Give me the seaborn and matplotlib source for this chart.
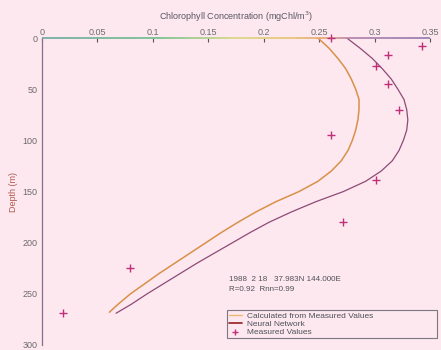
import numpy as np
import pandas as pd
import matplotlib
matplotlib.use("Agg")
import matplotlib.pyplot as plt
from matplotlib.collections import LineCollection
from matplotlib.colors import LinearSegmentedColormap
from matplotlib.lines import Line2D
import seaborn as sns

# ---- data ----
calc_depth = [0, 10, 20, 30, 40, 50, 60, 70, 80, 90, 100, 110, 120, 130, 140,
              150, 160, 170, 180, 190, 200, 210, 220, 230, 240, 250, 260, 268]
calc_chl = [0.249, 0.259, 0.267, 0.274, 0.279, 0.283, 0.286, 0.286, 0.285, 0.283,
            0.280, 0.276, 0.270, 0.261, 0.249, 0.232, 0.211, 0.193, 0.177, 0.162,
            0.148, 0.134, 0.120, 0.106, 0.093, 0.080, 0.069, 0.061]

nn_depth = [0, 10, 20, 30, 40, 50, 60, 70, 80, 90, 100, 110, 120, 130, 140,
            150, 160, 170, 180, 190, 200, 210, 220, 230, 240, 250, 260, 269]
nn_chl = [0.275, 0.287, 0.298, 0.307, 0.315, 0.321, 0.3265, 0.329, 0.330, 0.329,
          0.326, 0.322, 0.316, 0.306, 0.292, 0.272, 0.247, 0.225, 0.205, 0.188,
          0.172, 0.156, 0.140, 0.125, 0.110, 0.095, 0.081, 0.067]

meas_depth = [0, 8, 17, 27, 45, 70, 95, 139, 180, 225, 269]
meas_chl = [0.261, 0.343, 0.312, 0.301, 0.312, 0.322, 0.261, 0.301, 0.272, 0.080, 0.0195]

x_ticks = [0, 0.05, 0.1, 0.15, 0.2, 0.25, 0.3, 0.35]
x_ticklabels = ["0", "0.05", "0.1", "0.15", "0.2", "0.25", "0.3", "0.35"]
y_ticks = [0, 50, 100, 150, 200, 250, 300]
y_ticklabels = ["0", "50", "100", "150", "200", "250", "300"]

title = "Chlorophyll Concentration (mgChl/m$^3$)"
ylabel = "Depth (m)"
info1 = "1988  2 18   37.983N 144.000E"
info2 = "R=0.92  Rnn=0.99"
lab_calc = "Calculated from Measured Values"
lab_nn = "Neural Network"
lab_meas = "Measured Values"

# ---- style ----
BG = "#fce8ee"
C_CALC = "#d9904a"
C_NN = "#8e4a78"
C_MEAS = "#c0307a"
TXT = "#6e6a70"

sns.set_theme(style="white")
plt.rcParams["font.family"] = ["Liberation Sans Narrow", "Liberation Sans", "DejaVu Sans"]

fig = plt.figure(figsize=(4.41, 3.50), dpi=100, facecolor=BG)
ax = fig.add_axes([0.0946, 0.0143, 0.8805, 0.8771], facecolor=BG)

df_calc = pd.DataFrame({"chl": calc_chl, "depth": calc_depth})
df_nn = pd.DataFrame({"chl": nn_chl, "depth": nn_depth})
df_meas = pd.DataFrame({"chl": meas_chl, "depth": meas_depth})

sns.lineplot(data=df_calc, x="chl", y="depth", orient="y", sort=False, estimator=None,
             color=C_CALC, lw=1.1, ax=ax)
sns.lineplot(data=df_nn, x="chl", y="depth", orient="y", sort=False, estimator=None,
             color=C_NN, lw=0.9, ax=ax)
sns.scatterplot(data=df_meas, x="chl", y="depth", marker="+", color=C_MEAS,
                s=32, linewidth=1.0, ax=ax, zorder=5, clip_on=False)

ax.set_xlim(0, 0.35)
ax.set_ylim(300, 0)
ax.xaxis.tick_top()
ax.set_xticks(x_ticks)
ax.set_xticklabels(x_ticklabels)
ax.set_yticks(y_ticks)
ax.set_yticklabels(y_ticklabels)
ax.tick_params(axis="x", direction="in", length=3, width=0.8, colors="#555", labelsize=6.5,
               labelcolor=TXT, pad=1)
ax.tick_params(axis="y", direction="in", length=3, width=0.8, colors="#555", labelsize=6.5,
               labelcolor=TXT, pad=3)
ax.set_xlabel("")
ax.set_ylabel(ylabel, fontsize=6.5, color="#b05a50", labelpad=3)
ax.set_title(title, fontsize=6.5, color="#5a5660", pad=13)

for s in ["bottom", "right", "top"]:
    ax.spines[s].set_visible(False)
ax.spines["left"].set_color("#8a7090")
ax.spines["left"].set_linewidth(0.9)

# gradient top axis line
cmap = LinearSegmentedColormap.from_list(
    "topaxis", [(0.0, "#6aa8a0"), (0.3, "#6cbf8a"), (0.5, "#d8d880"),
                (0.65, "#e8c070"), (0.74, "#e0a070"), (0.8, "#b080a8"), (1.0, "#9078b0")])
xs = np.linspace(0, 0.35, 200)
segs = [[(xs[i], 0), (xs[i + 1], 0)] for i in range(len(xs) - 1)]
lc = LineCollection(segs, colors=cmap(np.linspace(0, 1, len(segs))), linewidths=1.2,
                    clip_on=False, zorder=4)
ax.add_collection(lc)

# annotation
ax.text(0.1685, 237, info1, fontsize=5.8, color="#505058", va="baseline")
ax.text(0.1685, 247, info2, fontsize=5.8, color="#505058", va="baseline")

handles = [Line2D([], [], color="#f0b870", lw=1.0),
           Line2D([], [], color="#9a3030", lw=1.3),
           Line2D([], [], color=C_MEAS, marker="+", ls="none", markersize=5)]
leg = fig.legend(handles, [lab_calc, lab_nn, lab_meas], loc="lower left",
                 bbox_to_anchor=(0.515, 0.034, 0.476, 0.10), mode="expand",
                 fontsize=6, frameon=True, fancybox=False, borderpad=0.2,
                 labelspacing=0.05, handlelength=1.6, handletextpad=0.6,
                 borderaxespad=0)
leg.get_frame().set_edgecolor("#605868")
leg.get_frame().set_facecolor("none")
leg.get_frame().set_linewidth(0.8)
for t in leg.get_texts():
    t.set_color("#505058")

fig.savefig("out.png", dpi=100, facecolor=BG)
